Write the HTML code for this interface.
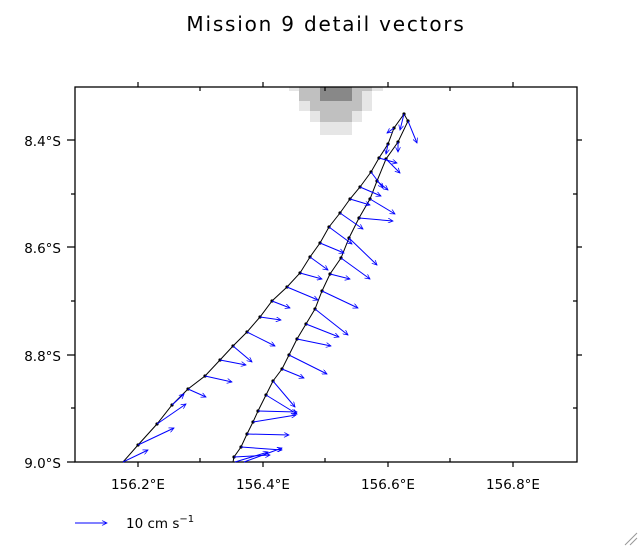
<!DOCTYPE html>
<html><head><style>body{margin:0;background:#fff}svg{display:block}text{font-family:"DejaVu Sans","Liberation Sans",sans-serif;fill:#000}</style></head><body>
<svg width="640" height="550" viewBox="0 0 640 550" xmlns="http://www.w3.org/2000/svg">
<defs><marker id="a" viewBox="0 0 10 10" refX="10" refY="5" markerWidth="7" markerHeight="5" orient="auto" markerUnits="userSpaceOnUse"><path d="M0,0 L10,5 L0,10" fill="none" stroke="#00f" stroke-width="1.5"/></marker></defs>
<text x="326" y="31" font-size="20" text-anchor="middle" letter-spacing="1.8">Mission 9 detail vectors</text>
<g shape-rendering="crispEdges">
<rect x="289" y="87" width="94" height="4" fill="#e6e6e6"/>
<rect x="299" y="87" width="73" height="14" fill="#c0c0c0"/>
<rect x="362" y="91" width="10" height="20" fill="#e6e6e6"/>
<rect x="299" y="101" width="11" height="10" fill="#e6e6e6"/>
<rect x="310" y="101" width="52" height="10" fill="#c0c0c0"/>
<rect x="310" y="111" width="52" height="11" fill="#e6e6e6"/>
<rect x="320" y="111" width="32" height="11" fill="#c0c0c0"/>
<rect x="320" y="122" width="32" height="13" fill="#e6e6e6"/>
<rect x="320" y="87" width="32" height="14" fill="#888"/>
</g>
<rect x="75" y="87" width="502" height="375" fill="none" stroke="#000" stroke-width="1.3"/>
<g stroke="#000" stroke-width="1.2">
<path d="M138,462v5M263,462v5M388,462v5M513,462v5M200,462v-4M325,462v-4M450,462v-4"/>
<path d="M138,87v-5M263,87v-5M388,87v-5M513,87v-5M200,87v4M325,87v4M450,87v4"/>
<path d="M75,140h-8M75,247h-8M75,355h-8M75,462h-8M75,194h-4M75,301h-4M75,408h-4"/>
<path d="M577,140h5M577,247h5M577,355h5M577,194h-4M577,301h-4M577,408h-4"/>
</g>
<g font-size="13.5" text-anchor="end">
<text x="61" y="146">8.4°S</text><text x="61" y="253">8.6°S</text><text x="61" y="361">8.8°S</text><text x="61" y="468">9.0°S</text>
</g>
<g font-size="13.5" text-anchor="middle">
<text x="138" y="489">156.2°E</text><text x="263" y="489">156.4°E</text><text x="388" y="489">156.6°E</text><text x="513" y="489">156.8°E</text>
</g>
<polyline fill="none" stroke="#000" stroke-width="1" points="123,462 138,445 157,424 172,405 188,389 205,376 220,360 233,346 247,332 260,317 272,301 287,287 300,273 310,257 320,243 329,227 340,213 350,199 360,187 371,172 379,158 388,144 394,128 404,114 408,121 398,142 386,159 377,181 370,199 359,218 349,238 341,258 330,274 322,291 315,309 306,324 297,339 289,355 282,369 273,381 266,395 258,411 253,422 247,434 241,447 234,457 233,462"/>
<g fill="#000">
<circle cx="138" cy="445" r="1.6"/><circle cx="157" cy="424" r="1.6"/><circle cx="172" cy="405" r="1.6"/><circle cx="188" cy="389" r="1.6"/><circle cx="205" cy="376" r="1.6"/><circle cx="220" cy="360" r="1.6"/><circle cx="233" cy="346" r="1.6"/><circle cx="247" cy="332" r="1.6"/><circle cx="260" cy="317" r="1.6"/><circle cx="272" cy="301" r="1.6"/><circle cx="287" cy="287" r="1.6"/><circle cx="300" cy="273" r="1.6"/><circle cx="310" cy="257" r="1.6"/><circle cx="320" cy="243" r="1.6"/><circle cx="329" cy="227" r="1.6"/><circle cx="340" cy="213" r="1.6"/><circle cx="350" cy="199" r="1.6"/><circle cx="360" cy="187" r="1.6"/><circle cx="371" cy="172" r="1.6"/><circle cx="379" cy="158" r="1.6"/><circle cx="388" cy="144" r="1.6"/><circle cx="394" cy="128" r="1.6"/><circle cx="404" cy="114" r="1.6"/>
<circle cx="408" cy="121" r="1.6"/><circle cx="398" cy="142" r="1.6"/><circle cx="386" cy="159" r="1.6"/><circle cx="377" cy="181" r="1.6"/><circle cx="370" cy="199" r="1.6"/><circle cx="359" cy="218" r="1.6"/><circle cx="349" cy="238" r="1.6"/><circle cx="341" cy="258" r="1.6"/><circle cx="330" cy="274" r="1.6"/><circle cx="322" cy="291" r="1.6"/><circle cx="315" cy="309" r="1.6"/><circle cx="306" cy="324" r="1.6"/><circle cx="297" cy="339" r="1.6"/><circle cx="289" cy="355" r="1.6"/><circle cx="282" cy="369" r="1.6"/><circle cx="273" cy="381" r="1.6"/><circle cx="266" cy="395" r="1.6"/><circle cx="258" cy="411" r="1.6"/><circle cx="253" cy="422" r="1.6"/><circle cx="247" cy="434" r="1.6"/><circle cx="241" cy="447" r="1.6"/><circle cx="234" cy="457" r="1.6"/>
</g>
<g stroke="#00f" stroke-width="1" fill="none" marker-end="url(#a)">
<path d="M123,462L148,450"/><path d="M138,445L174,428"/><path d="M157,424L186,404"/><path d="M172,405L184,394"/><path d="M188,389L206,397"/><path d="M205,376L232,382"/><path d="M220,360L246,365"/><path d="M233,346L252,362"/><path d="M247,332L275,346"/><path d="M260,317L281,320"/><path d="M272,301L290,308"/><path d="M287,287L318,300"/><path d="M300,273L322,279"/>
<path d="M310,257L328,270"/><path d="M320,243L344,253"/><path d="M329,227L352,244"/><path d="M340,213L363,229"/><path d="M350,199L370,205"/><path d="M360,187L381,196"/><path d="M371,172L383,188"/><path d="M379,158L397,163"/><path d="M388,144L386,154"/><path d="M394,128L387,133"/><path d="M404,114L400,130"/>
<path d="M408,121L417,143"/><path d="M398,142L398,152"/><path d="M386,159L400,173"/><path d="M377,181L388,190"/><path d="M370,199L395,214"/><path d="M359,218L393,221"/><path d="M349,238L377,265"/><path d="M341,258L370,279"/>
<path d="M330,274L350,279"/><path d="M322,291L358,308"/><path d="M315,309L348,335"/><path d="M306,324L339,337"/><path d="M297,339L331,346"/><path d="M289,355L327,374"/><path d="M282,369L304,378"/><path d="M273,381L295,407"/><path d="M266,395L297,414"/><path d="M258,411L297,412"/><path d="M253,422L296,415"/><path d="M247,434L289,435"/><path d="M241,447L282,450"/><path d="M234,457L270,455"/><path d="M235,462L268,452"/><path d="M244,462L282,448"/>
</g>
<path d="M75,523H107" stroke="#00f" stroke-width="1" marker-end="url(#a)"/>
<text x="126" y="528" font-size="13.5">10 cm s<tspan dy="-6" font-size="10">−1</tspan></text>
<path d="M625,545L637,533M630,545L637,538" stroke="#999" stroke-width="1"/>
</svg>
</body></html>
